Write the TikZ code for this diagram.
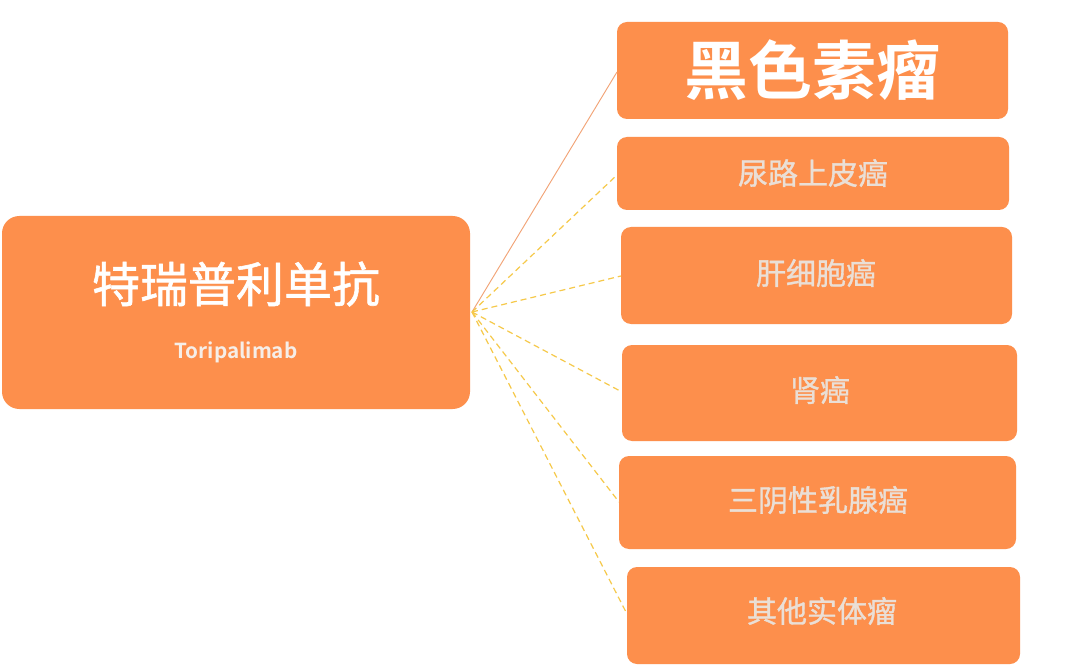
\documentclass[tikz,border=0pt]{standalone}
\usepackage{fontspec}
\newfontfamily\cjk{Noto Sans CJK SC}
\newfontfamily\cjkm[FakeBold=1.2]{Noto Sans CJK SC}
\newfontfamily\cjkb{Noto Sans CJK SC Bold}
\definecolor{boxfill}{HTML}{FD8F4C}
\definecolor{dimtext}{HTML}{EADFD6}
\definecolor{subtext}{HTML}{F6EEE8}
\definecolor{solidline}{HTML}{F2A477}
\definecolor{dashline}{HTML}{F6C94A}
\tikzset{
  px/.style={x=0.75pt,y=-0.75pt},
  box/.style={draw=none,fill=boxfill,rounded corners=7.5pt},
  bigbox/.style={draw=none,fill=boxfill,rounded corners=13pt},
  label/.style={text=dimtext,font=\cjkm\fontsize{22.5pt}{24pt}\selectfont},
  dashconn/.style={draw=dashline,dash pattern=on 4.5pt off 3pt,line width=0.9pt},
  solidconn/.style={draw=solidline,line width=0.7pt}
}
\begin{document}
\begin{tikzpicture}[px]
\useasboundingbox (0,0) rectangle (1080,666);
\fill[white] (0,0) rectangle (1080,666);
% left box
\path[bigbox] (2,216) rectangle (470,409);
\node[text=white,font=\cjkm\fontsize{36pt}{40pt}\selectfont] (main) at (236,284) {特瑞普利单抗};
\node[text=subtext,font=\cjkb\fontsize{15.5pt}{18pt}\selectfont] (sub) at (236,352) {Toripalimab};
\coordinate (o) at (472,312);
% right boxes
\path[box] (617,22) rectangle (1008,119);
\node[text=white,font=\cjkb\fontsize{48pt}{52pt}\selectfont] (t1) at (812,70) {黑色素瘤};
\path[box] (617,137) rectangle (1009,210);
\node[label] (t2) at (813,173) {尿路上皮癌};
\path[box] (621,227) rectangle (1012,324);
\node[label] (t3) at (816,273) {肝细胞癌};
\path[box] (622,345) rectangle (1017,441);
\node[label] (t4) at (820,390) {肾癌};
\path[box] (619,456) rectangle (1016,549);
\node[label] (t5) at (818,500) {三阴性乳腺癌};
\path[box] (627,567) rectangle (1020,664);
\node[label] (t6) at (822,611) {其他实体瘤};
\coordinate (e1) at (617,72);
\coordinate (e2) at (617,175);
\coordinate (e3) at (621,276);
\coordinate (e4) at (622,392);
\coordinate (e5) at (619,502);
\coordinate (e6) at (627,614);
\draw[solidconn] (o) -- (e1);
\draw[dashconn] (o) -- (e2);
\draw[dashconn] (o) -- (e3);
\draw[dashconn] (o) -- (e4);
\draw[dashconn] (o) -- (e5);
\draw[dashconn] (o) -- (e6);
\end{tikzpicture}
\end{document}
